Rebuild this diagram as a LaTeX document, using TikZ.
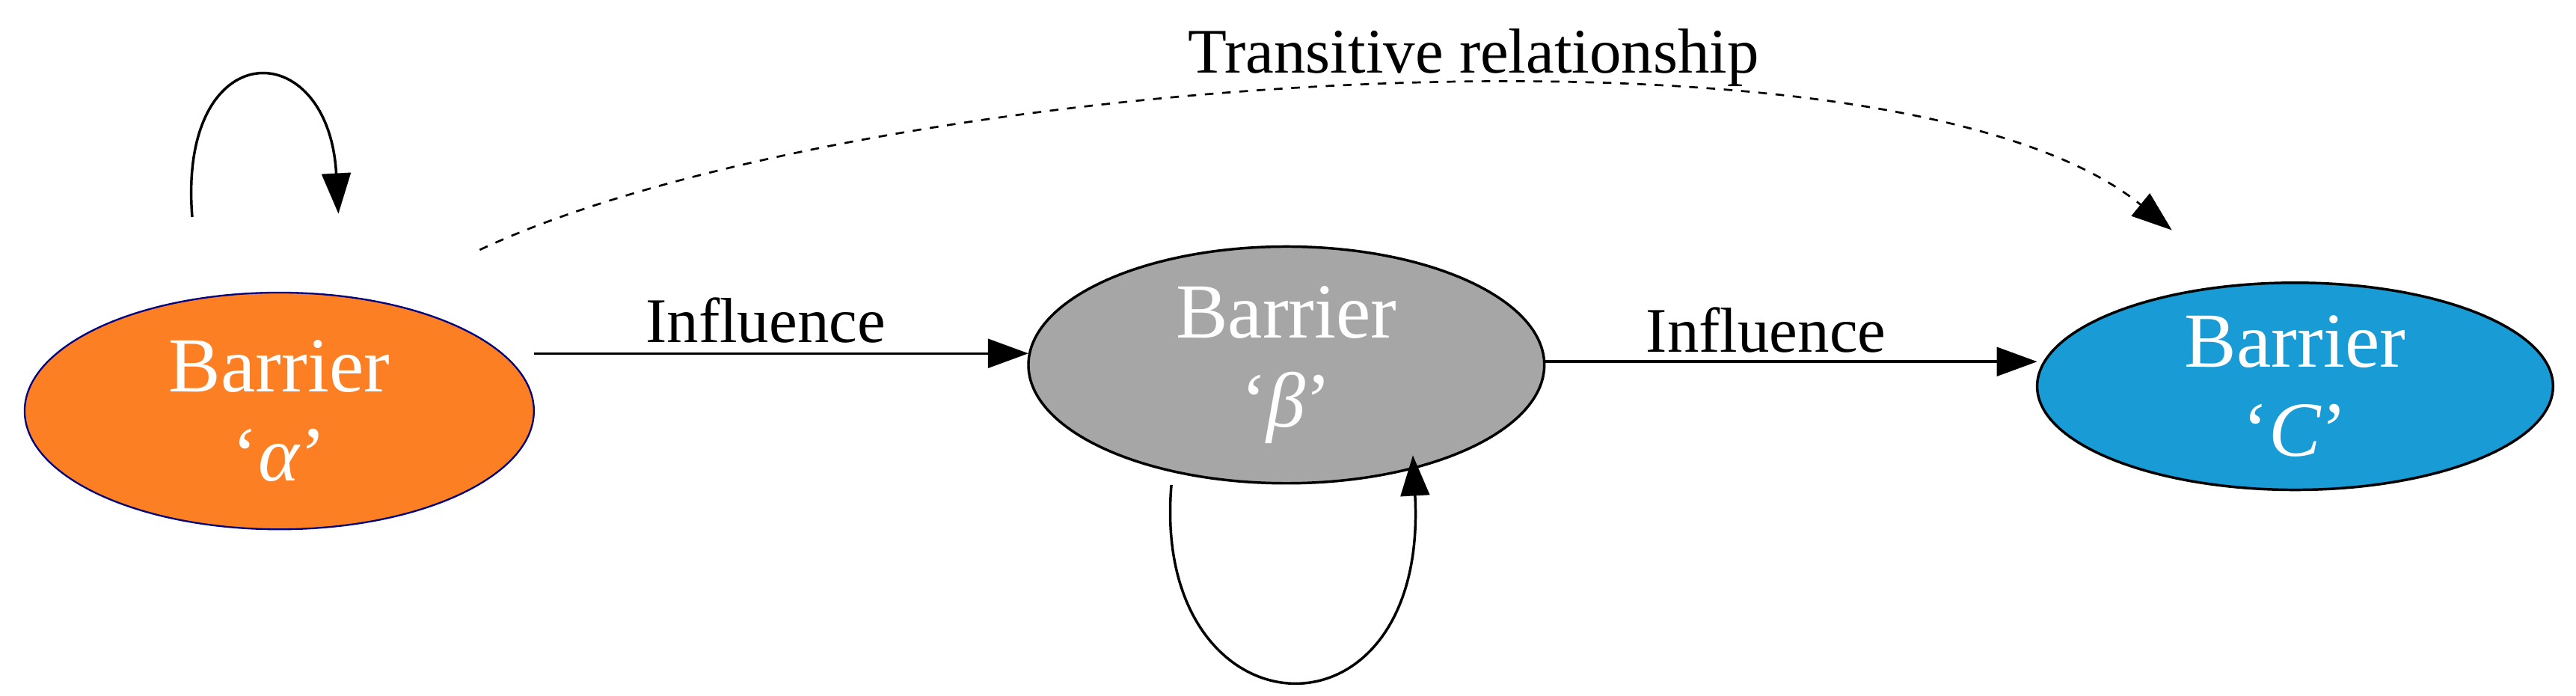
\documentclass[tikz,border=0pt]{standalone}
\usepackage{fontspec}
\setmainfont{Liberation Serif}
\usetikzlibrary{arrows.meta}
\definecolor{orng}{HTML}{FD7F23}
\definecolor{gry}{HTML}{A6A6A6}
\definecolor{blu}{HTML}{199BD6}
\begin{document}
\begin{tikzpicture}[x=0.02cm,y=-0.02cm,
  btext/.style={text=white, align=center, font=\fontsize{27}{31}\selectfont},
  conn/.style={-{Triangle[length=14pt,width=10pt]}, line width=0.9pt},
  lbl/.style={font=\fontsize{22}{24}\selectfont}]
\useasboundingbox (0,0) rectangle (1568,423);
\fill[orng, draw=blue!50!black, line width=0.6pt] (170,250) ellipse [x radius=155, y radius=72];
\node[btext] (a) at (170,250) {Barrier\\‘\textit{α}’};
\fill[gry, draw=black, line width=0.9pt] (783,222) ellipse [x radius=157, y radius=72];
\node[btext] (b) at (783,222) {Barrier\\‘\textit{β}’};
\fill[blu, draw=black, line width=0.9pt] (1397,235) ellipse [x radius=157, y radius=63];
\node[btext] (c) at (1397,235) {Barrier\\‘\textit{C}’};
\coordinate (aE) at (325,215);
\coordinate (bW) at (626,215);
\coordinate (bE) at (940,220);
\coordinate (cW) at (1240,220);
\draw[conn] (aE) -- (bW);
\draw[conn] (bE) -- (cW);
\node[lbl] (i1) at (466,195) {Influence};
\node[lbl] (i2) at (1075,201) {Influence};
\coordinate (la1) at (117,132);
\coordinate (la2) at (206,130);
\draw[conn] (la1) .. controls (108,20) and (200,20) .. (la2);
\coordinate (lb1) at (713,295);
\coordinate (lb2) at (860,277);
\draw[conn] (lb1) .. controls (700,450) and (870,460) .. (lb2);
\coordinate (d1) at (292,152);
\coordinate (d2) at (1322,140);
\draw[dashed, line width=0.7pt, -{Triangle[length=14pt,width=10pt]}] (d1) .. controls (520,45) and (1150,0) .. (d2);
\node[lbl] (t) at (897,35) {Transitive relationship};
\end{tikzpicture}
\end{document}
